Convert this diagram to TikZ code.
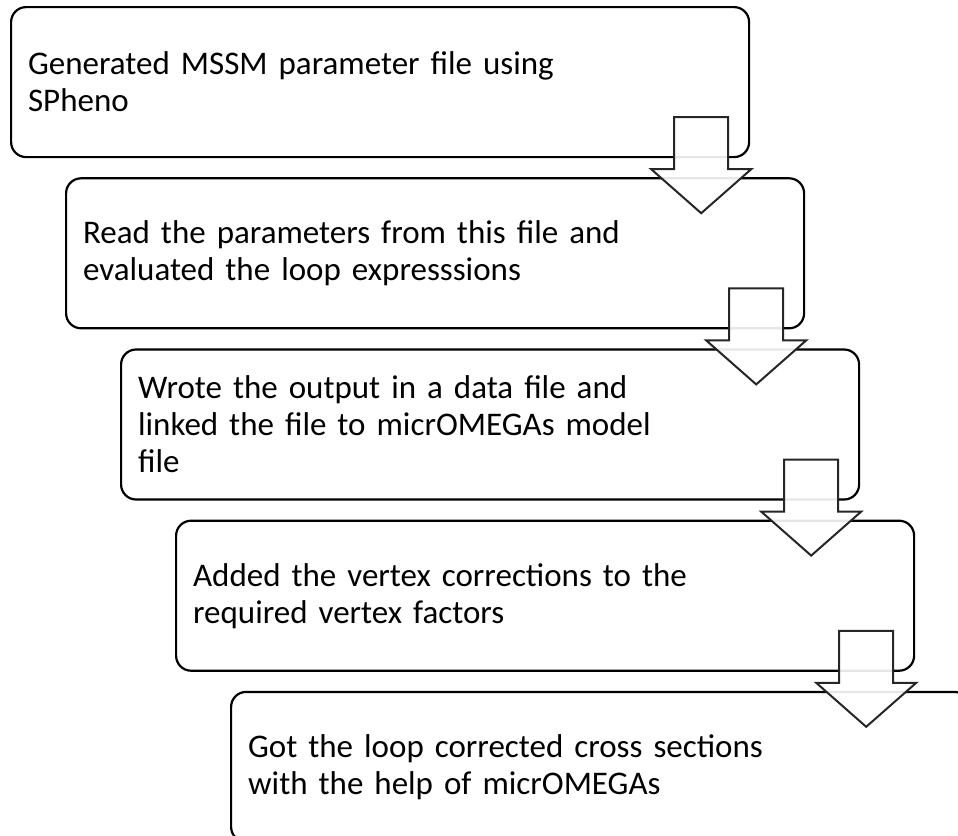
\documentclass[tikz,border=0pt]{standalone}
\usepackage{fontspec}
\setmainfont{Carlito}
\usetikzlibrary{positioning,calc}

\begin{document}
\begin{tikzpicture}[x=1pt,y=1pt,
    stage/.style={draw, line width=2.2pt, rounded corners=15pt, minimum width=738pt, minimum height=150pt,
                  text width=704pt, inner xsep=17pt, align=left, font=\fontsize{33}{37}\selectfont},
    flowarrow/.style={draw=black!85, line width=2pt, fill=white, fill opacity=0.9, line join=miter}]
    \useasboundingbox (0,0) rectangle (958,-835);
    \clip (0,0) rectangle (958,-835);
    \node[stage, anchor=north west] (s1) at (10,-6) {Generated MSSM parameter file using\\SPheno};
    \node[stage, below right=19pt and 55pt of s1.south west] (s2) {Read the parameters from this file and\\evaluated the loop expresssions};
    \node[stage, below right=19pt and 55pt of s2.south west] (s3) {Wrote the output in a data file and\\linked the file to micrOMEGAs model\\file};
    \node[stage, below right=19pt and 55pt of s3.south west] (s4) {Added the vertex corrections to the\\required vertex factors};
    \node[stage, below right=19pt and 55pt of s4.south west] (s5) {Got the loop corrected cross sections\\with the help of micrOMEGAs};
    \foreach \i in {1,...,4}
        \draw[flowarrow] ($(s\i.south east)+(-76,41)$) -- ++(54,0) -- ++(0,-52) -- ++(23,0)
            -- ++(-50,-44) -- ++(-50,44) -- ++(23,0) -- cycle;
\end{tikzpicture}
\end{document}
